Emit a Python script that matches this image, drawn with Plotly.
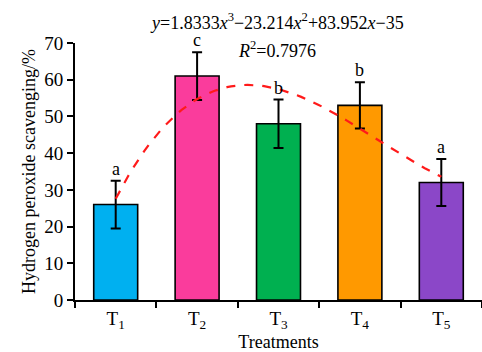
import numpy as np
import plotly.graph_objects as go

categories = ["T<sub>1</sub>", "T<sub>2</sub>", "T<sub>3</sub>", "T<sub>4</sub>", "T<sub>5</sub>"]
values = [26, 61, 48, 53, 32]
errors = [6.5, 6.5, 6.6, 6.3, 6.4]
letters = ["a", "c", "b", "b", "a"]
colors = ["#00B0F0", "#FA3C9C", "#00B050", "#FF9900", "#8B47C8"]
fit_coef = [1.8333, -23.214, 83.952, -35]  # cubic fit shown on chart
r2 = 0.7976

xpos = list(range(1, len(categories) + 1))
FONT = "Liberation Serif"

fig = go.Figure()
fig.add_trace(go.Bar(
    x=xpos, y=values,
    marker=dict(color=colors, line=dict(color="black", width=1.6)),
    error_y=dict(type="data", array=errors, visible=True, color="black", thickness=2, width=5),
    width=0.54, showlegend=False, hoverinfo="skip",
))

xs = np.linspace(1, 5, 80)
ys = np.polyval(fit_coef, xs)
fig.add_trace(go.Scatter(
    x=xs, y=ys, mode="lines",
    line=dict(color="#FF1A1A", width=2.2, dash="dash"), showlegend=False, hoverinfo="skip",
))

for x, v, e, t in zip(xpos, values, errors, letters):
    fig.add_annotation(x=x, y=v + e, text=t, showarrow=False, yanchor="bottom", yshift=0,
                       font=dict(family=FONT, size=18, color="black"))

fig.add_annotation(xref="paper", yref="paper", x=0.497, y=1.0, yshift=22,
                   text="<i>y</i>=1.8333<i>x</i><sup>3</sup>−23.214<i>x</i><sup>2</sup>+83.952<i>x</i>−35",
                   showarrow=False, xanchor="center", yanchor="middle",
                   font=dict(family=FONT, size=18, color="black"))
fig.add_annotation(xref="paper", yref="paper", x=0.497, y=1.0, yshift=-6,
                   text="<i>R</i><sup>2</sup>=" + f"{r2:.4f}",
                   showarrow=False, xanchor="center", yanchor="middle",
                   font=dict(family=FONT, size=18, color="black"))

fig.update_layout(
    width=482, height=352,
    margin=dict(l=75, r=0, t=43, b=52, autoexpand=False),
    paper_bgcolor="white", plot_bgcolor="white",
    font=dict(family=FONT, size=18, color="black"),
    xaxis=dict(
        range=[0.5, 5.5], tickmode="array", tickvals=xpos, ticktext=categories,
        ticks="", showline=True, linecolor="black", linewidth=2, showgrid=False, zeroline=False,
        minor=dict(ticks="outside", tick0=0.5, dtick=1, ticklen=6, tickwidth=2, tickcolor="black", showgrid=False),
        title=dict(text="Treatments", standoff=2, font=dict(size=18)),
        tickfont=dict(size=19), automargin=False,
    ),
    yaxis=dict(
        range=[0, 70], tickmode="linear", tick0=0, dtick=10,
        ticks="outside", ticklen=6, tickwidth=2, tickcolor="black",
        showline=True, linecolor="black", linewidth=2, showgrid=False, zeroline=False,
        title=dict(text="Hydrogen peroxide scavenging/%", standoff=4, font=dict(size=18)),
        tickfont=dict(size=19), automargin=False,
    ),
)

fig.write_html("out.html", config={"displayModeBar": False},
               post_script="document.body.style.margin='0';document.body.style.overflow='hidden';")
